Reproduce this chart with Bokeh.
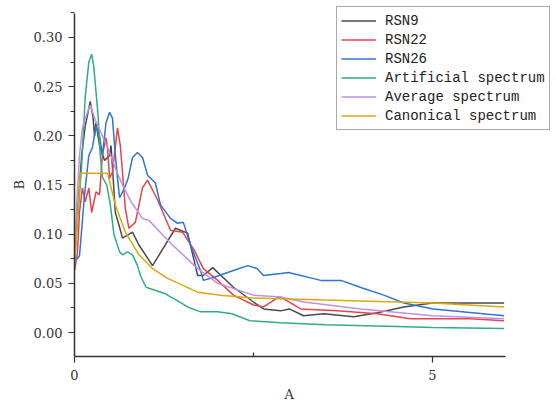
from bokeh.plotting import figure
from bokeh.models import Legend, LegendItem, FixedTicker, Range1d, CustomJSTickFormatter, Title
from bokeh.embed import file_html
from bokeh.resources import INLINE

# ---- data (period A, value B) ----
rsn9_x = [0.0, 0.05, 0.1, 0.15, 0.22, 0.26, 0.28, 0.3, 0.35, 0.42, 0.49, 0.51, 0.54, 0.57, 0.63, 0.67,
          0.81, 0.9, 1.09, 1.41, 1.58, 1.72, 1.8, 1.93, 2.22, 2.5, 2.64, 2.88, 3.0, 3.2, 3.48, 3.9,
          4.23, 4.6, 5.0, 6.0]
rsn9_y = [0.075, 0.13, 0.18, 0.21, 0.235, 0.218, 0.2, 0.213, 0.19, 0.175, 0.18, 0.19, 0.157, 0.122, 0.107, 0.096,
          0.102, 0.089, 0.068, 0.106, 0.101, 0.058, 0.058, 0.066, 0.046, 0.031, 0.024, 0.022, 0.024, 0.017, 0.019, 0.016,
          0.020, 0.026, 0.030, 0.030]

rsn22_x = [0.0, 0.04, 0.07, 0.11, 0.15, 0.2, 0.24, 0.3, 0.35, 0.39, 0.44, 0.46, 0.49, 0.53, 0.6, 0.64, 0.67,
           0.71, 0.76, 0.85, 0.95, 1.02, 1.16, 1.34, 1.51, 1.67, 1.8, 2.0, 2.22, 2.5, 2.64, 2.83, 2.88, 3.16,
           3.67, 4.23, 4.69, 5.53, 6.0]
rsn22_y = [0.063, 0.08, 0.122, 0.147, 0.133, 0.147, 0.122, 0.143, 0.14, 0.181, 0.198, 0.188, 0.157, 0.163, 0.208, 0.19, 0.163,
           0.126, 0.106, 0.112, 0.147, 0.155, 0.135, 0.104, 0.102, 0.084, 0.065, 0.053, 0.038, 0.028, 0.026, 0.035, 0.036, 0.024,
           0.022, 0.019, 0.014, 0.014, 0.012]

rsn26_x = [0.0, 0.07, 0.14, 0.2, 0.25, 0.3, 0.35, 0.39, 0.44, 0.49, 0.53, 0.56, 0.6, 0.63, 0.7, 0.75, 0.81,
           0.88, 0.95, 1.02, 1.13, 1.2, 1.34, 1.44, 1.52, 1.62, 1.76, 1.8, 1.94, 2.22, 2.42, 2.55, 2.64,
           2.88, 2.99, 3.44, 3.72, 4.03, 4.32, 4.6, 5.01, 6.0]
rsn26_y = [0.072, 0.078, 0.14, 0.18, 0.188, 0.21, 0.2, 0.18, 0.213, 0.224, 0.218, 0.19, 0.157, 0.137, 0.147, 0.157, 0.178,
           0.183, 0.178, 0.16, 0.152, 0.13, 0.116, 0.111, 0.112, 0.089, 0.063, 0.053, 0.056, 0.063, 0.068, 0.065, 0.058,
           0.060, 0.061, 0.053, 0.053, 0.045, 0.038, 0.030, 0.024, 0.017]

art_x = [0.0, 0.05, 0.1, 0.15, 0.2, 0.24, 0.27, 0.3, 0.33, 0.36, 0.39, 0.45, 0.5, 0.55, 0.63, 0.67, 0.74,
         0.81, 0.88, 0.92, 1.0, 1.25, 1.4, 1.58, 1.76, 2.0, 2.2, 2.45, 2.88, 3.5, 4.5, 5.0, 6.0]
art_y = [0.075, 0.12, 0.17, 0.24, 0.275, 0.283, 0.27, 0.245, 0.22, 0.18, 0.158, 0.15, 0.13, 0.10, 0.082, 0.079, 0.082,
         0.079, 0.068, 0.058, 0.046, 0.040, 0.034, 0.026, 0.021, 0.021, 0.019, 0.012, 0.010, 0.008, 0.006, 0.005, 0.004]

avg_x = [0.0, 0.03, 0.07, 0.11, 0.18, 0.22, 0.29, 0.39, 0.49, 0.57, 0.67, 0.79, 0.95, 1.04, 1.34, 1.72, 2.0,
         2.5, 2.88, 3.2, 4.0, 5.0, 6.0]
avg_y = [0.075, 0.13, 0.18, 0.208, 0.224, 0.231, 0.216, 0.2, 0.183, 0.167, 0.15, 0.133, 0.116, 0.114, 0.091, 0.065, 0.05,
         0.038, 0.036, 0.031, 0.024, 0.017, 0.014]

can_x = [0.0, 0.04, 0.08, 0.46, 0.57, 0.71, 0.9, 1.09, 1.3, 1.72, 2.04, 2.5, 3.0, 4.0, 5.0, 6.0]
can_y = [0.07, 0.11, 0.162, 0.162, 0.13, 0.102, 0.079, 0.065, 0.055, 0.041, 0.038, 0.035, 0.034, 0.032, 0.030, 0.026]

series = [
    ("RSN9", rsn9_x, rsn9_y, "#4a4a4a"),
    ("RSN22", rsn22_x, rsn22_y, "#e8434a"),
    ("RSN26", rsn26_x, rsn26_y, "#2f74d4"),
    ("Artificial spectrum", art_x, art_y, "#2fae7e"),
    ("Average spectrum", avg_x, avg_y, "#bf90e8"),
    ("Canonical spectrum", can_x, can_y, "#d9a90e"),
]

y_ticks = [0.0, 0.05, 0.10, 0.15, 0.20, 0.25, 0.30]
y_minor = [-0.025, 0.025, 0.075, 0.125, 0.175, 0.225, 0.275, 0.325]
x_ticks = [0, 5]
x_minor = [2.5]
x_axis_end = 6.02
y_axis_lo, y_axis_hi = -0.0244, 0.3244
x_title = "A"
y_title = "B"

p = figure(width=556, height=407, output_backend="svg", toolbar_location=None,
           x_range=Range1d(0, 6.732), y_range=Range1d(-0.0244, 0.3376),
           min_border_left=74, min_border_right=0, min_border_top=0, min_border_bottom=51)
p.outline_line_color = None
p.grid.visible = False
p.background_fill_color = "white"

items = []
for name, xs, ys, col in series:
    r = p.line(xs, ys, line_color=col, line_width=1.5)
    items.append(LegendItem(label=name, renderers=[r]))

for ax in (p.xaxis[0], p.yaxis[0]):
    ax.axis_line_color = "#333333"
    ax.axis_line_width = 1.5
    ax.major_tick_line_color = "#333333"
    ax.minor_tick_line_color = "#333333"
    ax.major_tick_line_width = 1.2
    ax.minor_tick_line_width = 1.2
    ax.major_label_text_font = "DejaVu Serif"
    ax.major_label_text_font_size = "13px"
    ax.major_label_text_color = "#333333"

p.yaxis.bounds = (y_axis_lo, y_axis_hi)
p.yaxis.ticker = FixedTicker(ticks=y_ticks, minor_ticks=y_minor)
p.yaxis.major_tick_out = 6
p.yaxis.major_tick_in = 0
p.yaxis.minor_tick_out = 4
p.yaxis.minor_tick_in = 0
p.yaxis.formatter = CustomJSTickFormatter(code="return tick.toFixed(2)")
p.yaxis.major_label_standoff = 6

p.xaxis.bounds = (0, x_axis_end)
p.xaxis.ticker = FixedTicker(ticks=x_ticks, minor_ticks=x_minor)
p.xaxis.major_tick_out = 6
p.xaxis.major_tick_in = 0
p.xaxis.minor_tick_out = 0
p.xaxis.minor_tick_in = 4
p.xaxis.major_label_standoff = 7

# axis titles placed as side titles so they centre on the drawn axis lines
xt = Title(text=x_title, align="left", offset=210, text_font="DejaVu Serif",
           text_font_size="13px", text_font_style="normal", text_color="#333333",
           standoff=7, vertical_align="middle")
p.add_layout(xt, "below")
yt = Title(text=y_title, align="left", offset=167, text_font="DejaVu Serif",
           text_font_size="13px", text_font_style="normal", text_color="#333333",
           standoff=6, vertical_align="middle")
p.add_layout(yt, "left")

legend = Legend(items=items, location=(262, 226), padding=4, spacing=0,
                label_height=19, glyph_height=19, glyph_width=35, label_standoff=9,
                margin=0, border_line_color="#555555", border_line_width=1,
                background_fill_color="white", background_fill_alpha=1.0,
                label_text_font="Liberation Mono", label_text_font_size="14px",
                label_text_color="#222222")
p.add_layout(legend, "center")

open("out.html", "w").write(file_html(p, INLINE))
